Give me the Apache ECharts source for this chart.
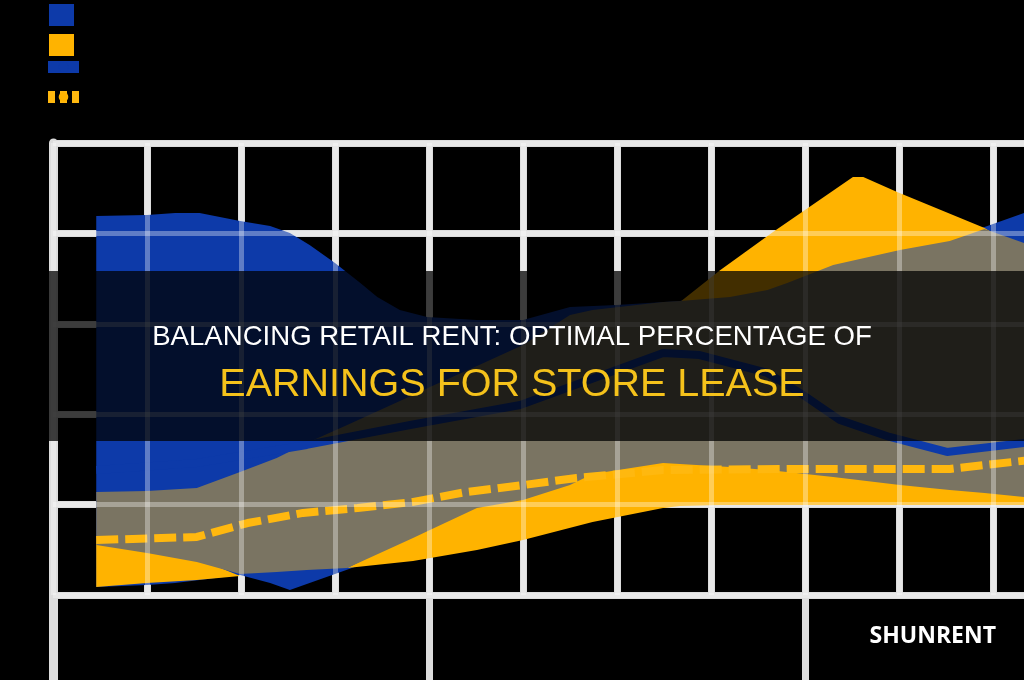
<!DOCTYPE html>
<html>
<head>
<meta charset="utf-8">
<script src="https://cdn.jsdelivr.net/npm/echarts@6/dist/echarts.min.js"></script>
<style>
html,body{margin:0;padding:0;background:#000;}
#chart{width:1024px;height:680px;}
</style>
</head>
<body>
<div id="chart"></div>
<script>
// ---- data (x in grid units, y in % of earnings) ----
const blueX      = [0.46,1.00,1.30,1.56,1.99,2.31,2.52,2.73,3.00,3.27,3.45,3.69,3.98,4.51,5.00,5.50,5.99,6.67,7.60,8.48,9.01,9.91,10.33,10.50];
const blueTop    = [20.96,21.02,21.13,21.13,20.69,20.41,20.02,19.36,18.36,17.26,16.48,15.76,15.38,15.21,15.21,15.93,16.04,16.26,17.87,18.97,19.63,20.35,21.13,21.46];
const blueBottom = [0.44,0.55,0.66,0.83,1.11,0.66,0.28,0.66,1.16,1.66,1.83,2.00,2.21,2.60,3.15,3.82,4.54,5.03,5.05,5.05,5.05,5.05,5.05,5.05];

const yellowX      = [0.46,1.00,1.53,1.99,2.52,3.13,3.83,4.51,5.00,5.74,6.49,6.67,7.10,7.66,8.51,8.62,8.98,9.91,10.50];
const yellowTop    = [2.97,2.52,2.03,1.05,1.11,1.49,3.35,5.15,5.60,7.10,14.10,16.21,17.98,20.08,23.12,23.12,22.29,20.30,18.42];
const yellowBottom = [0.44,0.66,0.83,1.05,1.11,1.49,1.88,2.49,3.04,4.04,4.81,4.92,4.98,4.98,4.98,4.98,4.98,4.98,4.98];

const grayX      = [0.46,1.00,1.53,1.99,2.38,2.70,3.13,3.83,4.01,4.51,5.00,5.50,5.74,6.49,6.67,7.20,7.60,7.81,8.30,9.01,9.54,9.91,10.33,10.50];
const grayTop    = [5.70,5.75,5.92,6.80,7.58,8.41,9.40,11.06,11.50,12.67,13.83,15.49,15.76,16.21,16.26,16.48,16.87,17.26,18.25,19.08,19.58,20.24,19.47,19.14];
const grayBottom = [2.77,2.32,1.83,1.16,1.27,1.38,1.49,3.15,3.60,4.81,5.25,6.08,6.69,7.30,7.25,7.08,6.91,6.80,6.53,6.08,5.81,5.64,5.42,5.31];

const lineX = [0.46,1.53,2.70,3.80,4.97,6.49,6.88,7.60,7.95,8.37,8.90,9.51,10.33,10.50];
const lineY = [6.91,7.30,8.30,9.40,10.51,13.38,13.27,12.28,11.17,9.68,8.74,7.91,8.41,8.52];

const dashX = [0.46,1.53,2.07,2.66,3.24,3.82,4.40,5.00,5.57,6.49,7.81,9.54,9.91,10.50];
const dashY = [3.04,3.21,3.98,4.54,4.81,5.14,5.70,6.08,6.47,6.91,6.97,6.97,7.19,7.52];

const titleLine1 = 'BALANCING RETAIL RENT: OPTIMAL PERCENTAGE OF';
const titleLine2 = 'EARNINGS FOR STORE LEASE';
const brand = 'SHUNRENT';

const BLUE = '#0d3aa9', YELLOW = '#ffb300', GRAY = '#7a7462';

// points stored as [value, x] so the value dimension comes first (stacking uses it)
function pts(xs, ys) { return xs.map((x, i) => [ys[i], x]); }
function spans(xs, top, bottom) { return xs.map((x, i) => [+(top[i] - bottom[i]).toFixed(2), x]); }
const ENC = { x: 1, y: 0 };
function band(name, xs, top, bottom, color, z) {
  return [
    { name: name + ' base', type: 'line', stack: name, stackStrategy: 'all', data: pts(xs, bottom), encode: ENC,
      symbol: 'none', lineStyle: { width: 0, opacity: 0 }, silent: true, z: z },
    { name: name, type: 'line', stack: name, stackStrategy: 'all', data: spans(xs, top, bottom), encode: ENC,
      symbol: 'none', lineStyle: { width: 0, opacity: 0 }, areaStyle: { color: color, opacity: 1 },
      itemStyle: { color: color }, color: color, silent: true, z: z }
  ];
}

const chart = echarts.init(document.getElementById('chart'));
const splitBase = { show: true, lineStyle: { color: '#dddddd', width: 7 } };
const splitOver = { show: true, lineStyle: { color: 'rgba(255,255,255,0.34)', width: 5 } };
const hidden = { axisLabel: { show: false }, axisTick: { show: false } };

chart.setOption({
  backgroundColor: '#000000',
  animation: false,
  grid: [
    { left: 53, top: 143, width: 1034, height: 452, containLabel: false, outerBoundsMode: 'none' },
    { left: 53, top: 595, width: 1034, height: 85, containLabel: false, outerBoundsMode: 'none' }
  ],
  xAxis: [
    Object.assign({ type: 'value', gridIndex: 0, min: 0, max: 11, interval: 1, axisLine: { show: false }, splitLine: splitBase }, hidden),
    Object.assign({ type: 'value', gridIndex: 0, min: 0, max: 11, interval: 1, axisLine: { show: false }, splitLine: splitOver, zlevel: 1, z: 8 }, hidden),
    Object.assign({ type: 'value', gridIndex: 1, min: 0, max: 11, interval: 4, axisLine: { show: false }, splitLine: splitBase }, hidden)
  ],
  yAxis: [
    Object.assign({ type: 'value', gridIndex: 0, min: 0, max: 25, interval: 5, axisLine: { show: true, lineStyle: { color: '#dddddd', width: 9 } }, splitLine: splitBase }, hidden),
    Object.assign({ type: 'value', gridIndex: 0, min: 0, max: 25, interval: 5, axisLine: { show: false }, splitLine: splitOver, zlevel: 1, z: 8 }, hidden),
    Object.assign({ type: 'value', gridIndex: 1, min: 0, max: 1, interval: 1, axisLine: { show: true, lineStyle: { color: '#dddddd', width: 9 } }, splitLine: { show: false } }, hidden)
  ],
  legend: [
    { orient: 'vertical', left: 49, top: 4, itemWidth: 25, itemHeight: 22, itemGap: 8, padding: 0,
      selectedMode: false, icon: 'rect', formatter: () => '', data: ['Rent range', 'Earnings range'] },
    { orient: 'vertical', left: 42, top: 61, itemWidth: 31, itemHeight: 12, itemGap: 18, padding: 0,
      selectedMode: false, formatter: () => '', lineStyle: { width: 12 },
      data: [{ name: 'Average rent share' }, { name: 'Target share', lineStyle: { width: 12, type: [7, 5] } }] }
  ],
  title: [
    { text: titleLine1, subtext: titleLine2, left: 'center', top: 321, padding: 0, itemGap: 10, zlevel: 2, z: 200,
      textStyle: { color: '#ffffff', fontFamily: 'Liberation Sans', fontWeight: 'normal', fontSize: 27.6, lineHeight: 32 },
      subtextStyle: { color: '#f5c21b', fontFamily: 'Liberation Sans', fontWeight: 'normal', fontSize: 39.5, lineHeight: 44 } },
    { text: brand, right: 28, top: 624, padding: 0, zlevel: 2, z: 200,
      textStyle: { color: '#ffffff', fontFamily: 'Open Sans', fontWeight: 'bold', fontSize: 23, lineHeight: 24 } }
  ],
  graphic: {
    elements: [
      { type: 'rect', left: 0, top: 271, zlevel: 2, z: 100, silent: true,
        shape: { width: 1024, height: 170 }, style: { fill: 'rgba(0,0,0,0.74)' } }
    ]
  },
  series: [
    ...band('Rent range', blueX, blueTop, blueBottom, BLUE, 2),
    ...band('Earnings range', yellowX, yellowTop, yellowBottom, YELLOW, 3),
    ...band('Optimal band', grayX, grayTop, grayBottom, GRAY, 4),
    { name: 'Average rent share', type: 'line', data: pts(lineX, lineY), encode: ENC, symbol: 'none', silent: true, z: 5,
      color: BLUE, lineStyle: { color: BLUE, width: 8 } },
    { name: 'Target share', type: 'line', data: pts(dashX, dashY), encode: ENC, symbol: 'none', silent: true, z: 6,
      color: YELLOW, lineStyle: { color: '#ffb80f', width: 8, type: [22, 7], cap: 'butt' } }
  ]
});
</script>
</body>
</html>
